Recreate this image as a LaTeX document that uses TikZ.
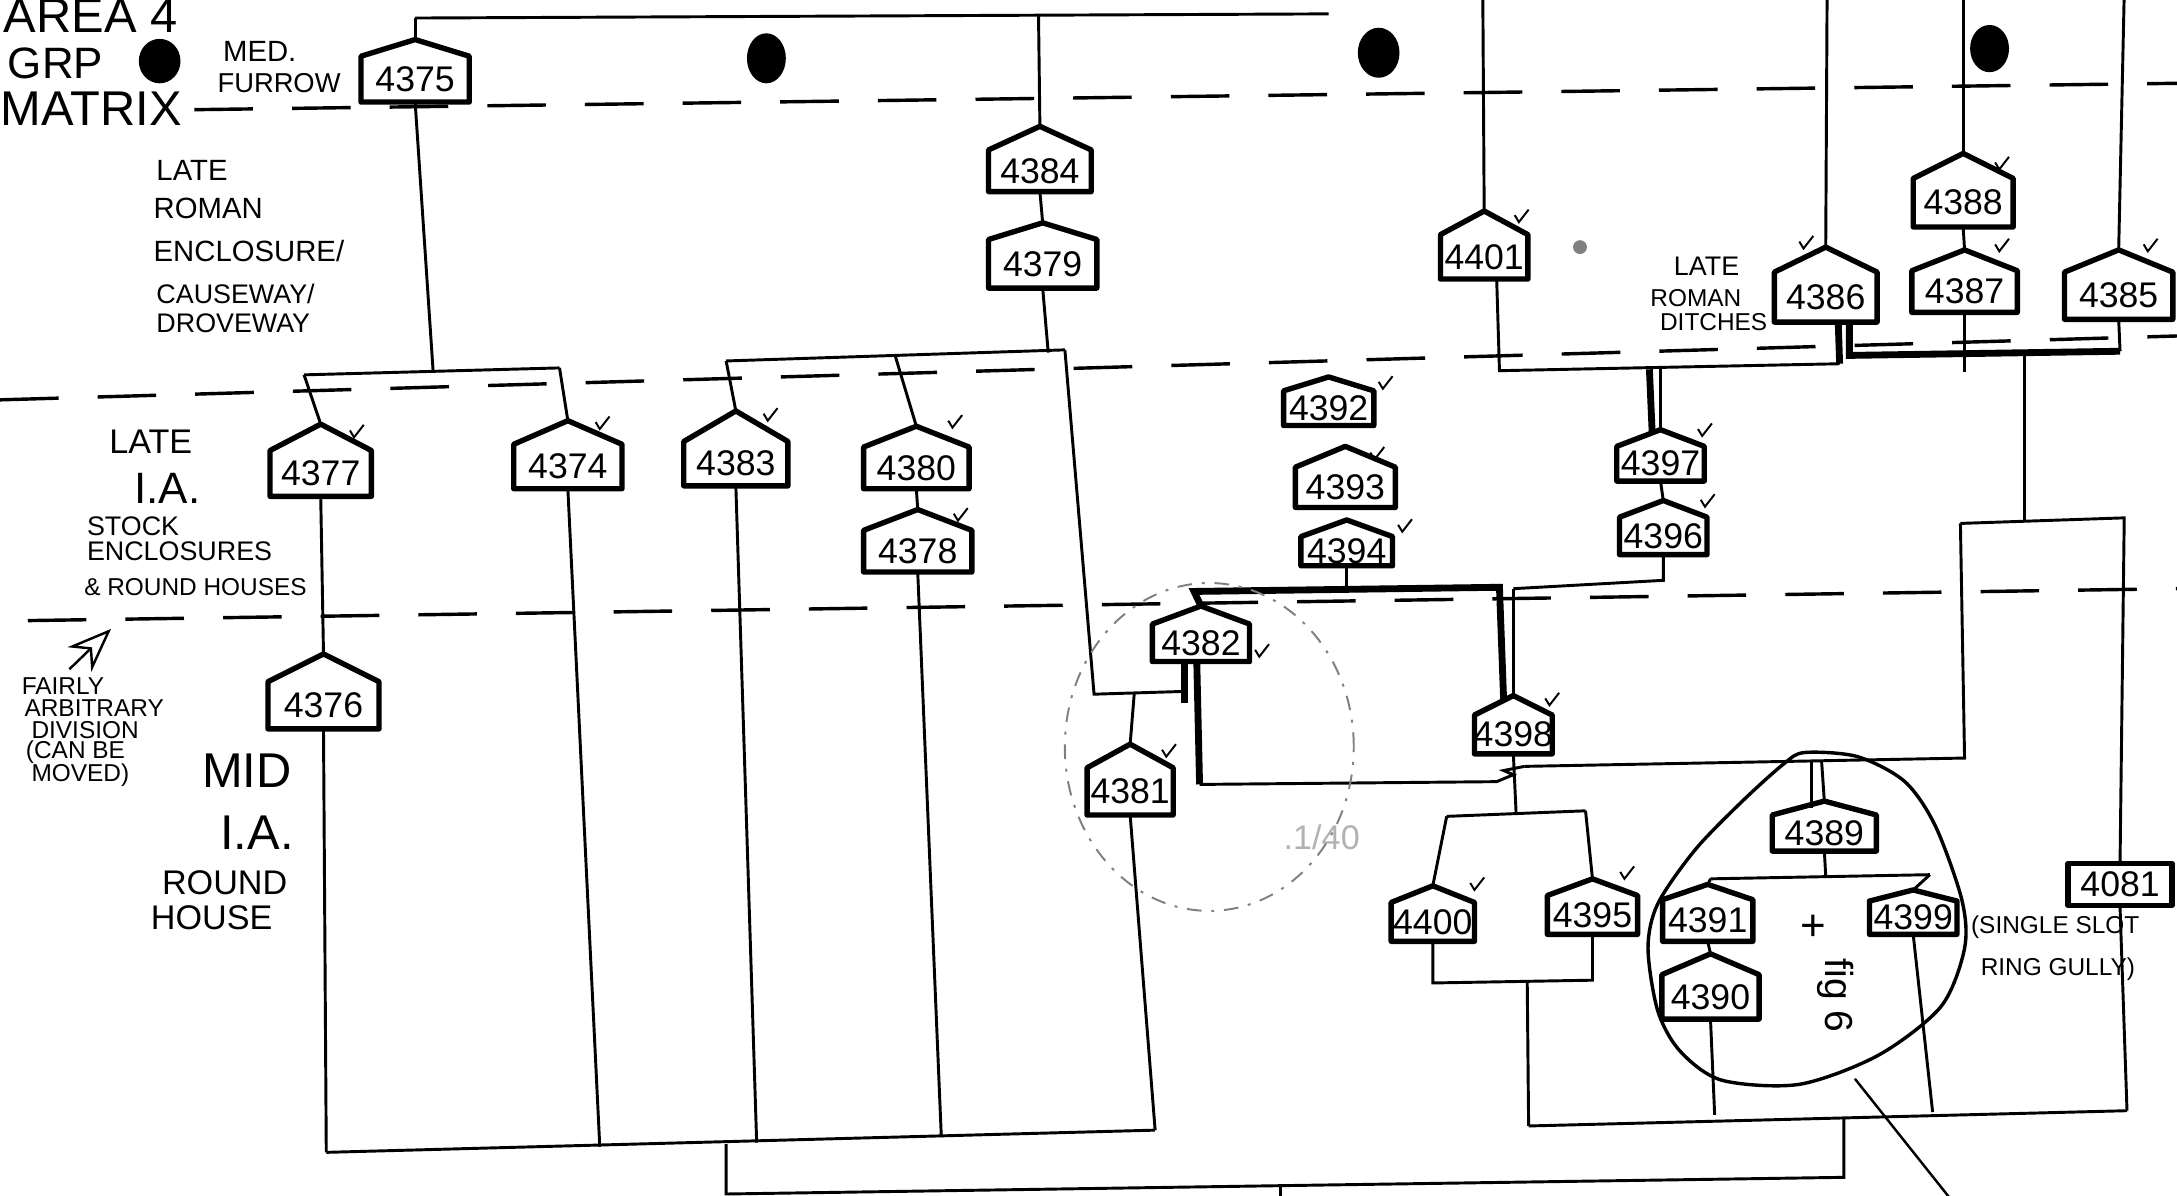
\documentclass[tikz,border=0pt]{standalone}
\usepackage{fontspec}
\setmainfont{Liberation Sans}
\usetikzlibrary{calc,arrows.meta}
\newcommand\hn[7]{% name, x, y, w, h, roof, label
  \node[num] (#1) at (#2,#3) {#7};
  \coordinate (#1-p) at ($(#2,#3)+(0,-#5/2-#6)$);
  \coordinate (#1-b) at ($(#2,#3)+(0,#5/2)$);
  \draw[bx] ($(#2,#3)+(-#4/2,#5/2)$) -- ($(#2,#3)+(#4/2,#5/2)$) -- ($(#2,#3)+(#4/2,-#5/2)$) -- (#1-p) -- ($(#2,#3)+(-#4/2,-#5/2)$) -- cycle;
}
\newcommand\tk[2]{\draw[line width=0.4pt] (#1-3,#2-2) -- (#1,#2+3) -- (#1+7,#2-6);}
\begin{document}
\begin{tikzpicture}[x=0.01cm,y=-0.01cm,
  ln/.style={line width=0.6pt},
  bx/.style={line width=1.1pt,line join=round},
  thk/.style={line width=1.4pt},
  dsh/.style={line width=0.7pt,dash pattern=on 12pt off 8pt},
  num/.style={inner sep=0pt,font=\fontsize{7.3}{8}\selectfont},
  lab/.style={inner sep=0pt,anchor=west,font=\fontsize{6}{7}\selectfont},
  big/.style={inner sep=0pt,anchor=west,font=\fontsize{9}{10}\selectfont},
]
\fill[white] (0,0) rectangle (1568,861);
\useasboundingbox (0,0) rectangle (1568,861);

% dashed period divisions
\draw[dsh] (140,79) -- (1568,60);
\draw[dsh] (0,288) -- (1568,242);
\draw[dsh] (20,447) -- (1568,424);

% title and labels
\node[anchor=west,inner sep=0pt,font=\fontsize{10}{11}\selectfont] (title) at (2,11) {AREA 4};
\node[big] (grp) at (5,46) {GRP};
\node[anchor=west,inner sep=0pt,font=\fontsize{10}{11}\selectfont] (matrix) at (0,78) {MATRIX};
\fill (115,44) ellipse [x radius=0.15cm, y radius=0.16cm];
\fill (552,42) ellipse [x radius=0.14cm, y radius=0.18cm];
\fill (993,38) ellipse [x radius=0.15cm, y radius=0.18cm];
\fill (1433,35) ellipse [x radius=0.14cm, y radius=0.17cm];
\fill[gray] (1138,178) circle [radius=0.05cm];
\node[lab,font=\fontsize{6}{7}\selectfont] (med) at (160,37) {MED.};
\node[lab,font=\fontsize{5.6}{7}\selectfont] (furrow) at (156,60) {FURROW};

\node[lab] (lr1) at (112,123) {LATE};
\node[lab] (lr2) at (110,150) {ROMAN};
\node[lab] (lr3) at (110,181) {ENCLOSURE/};
\node[lab,font=\fontsize{5.5}{6}\selectfont] (lr4) at (112,212) {CAUSEWAY/};
\node[lab,font=\fontsize{5.5}{6}\selectfont] (lr5) at (112,233) {DROVEWAY};

\node[lab,font=\fontsize{7}{8}\selectfont] (li1) at (78,318) {LATE};
\node[big] (li2) at (96,352) {I.A.};
\node[lab,font=\fontsize{5.5}{6}\selectfont] (li3) at (62,379) {STOCK};
\node[lab,font=\fontsize{5.5}{6}\selectfont] (li4) at (62,397) {ENCLOSURES};
\node[lab,font=\fontsize{5}{6}\selectfont] (li5) at (60,423) {\& ROUND HOUSES};

\node[lab,font=\fontsize{5}{6}\selectfont] (fa1) at (15,494) {FAIRLY};
\node[lab,font=\fontsize{5}{6}\selectfont] (fa2) at (17,510) {ARBITRARY};
\node[lab,font=\fontsize{5}{6}\selectfont] (fa3) at (22,526) {DIVISION};
\node[lab,font=\fontsize{5}{6}\selectfont] (fa4) at (18,542) {(CAN BE};
\node[lab,font=\fontsize{5}{6}\selectfont] (fa5) at (22,558) {MOVED)};
\coordinate (arA) at (50,482);
\coordinate (arB) at (80,453);
\draw[line width=0.5pt,-{Stealth[length=9pt,width=7pt,open]}] (arA) -- (arB);

\node[big,font=\fontsize{10}{11}\selectfont] (mid1) at (145,555) {MID};
\node[big,font=\fontsize{10}{11}\selectfont] (mid2) at (158,600) {I.A.};
\node[lab,font=\fontsize{7}{8}\selectfont] (mid3) at (116,636) {ROUND};
\node[lab,font=\fontsize{7}{8}\selectfont] (mid4) at (108,661) {HOUSE};

\node[lab,font=\fontsize{5.5}{6}\selectfont] (lrd1) at (1205,192) {LATE};
\node[lab,font=\fontsize{5}{6}\selectfont] (lrd2) at (1188,215) {ROMAN};
\node[lab,font=\fontsize{5}{6}\selectfont] (lrd3) at (1195,232) {DITCHES};

\node[lab,font=\fontsize{5}{6}\selectfont] (sg1) at (1419,668) {(SINGLE SLOT};
\node[lab,font=\fontsize{5}{6}\selectfont] (sg2) at (1426,698) {RING GULLY)};
\node[inner sep=0pt,font=\fontsize{9}{10}\selectfont] (plus) at (1306,668) {+};
\node[inner sep=0pt,font=\fontsize{8}{9}\selectfont,rotate=-90] (fig) at (1322,717) {fig 6};
\node[inner sep=0pt,font=\fontsize{7}{8}\selectfont,text=gray!60] (faint) at (952,603) {.1/40};

% house nodes
\hn{n4375}{299}{57}{78}{33}{12}{4375}
\hn{n4384}{749}{123}{74}{30}{17}{4384}
\hn{n4379}{751}{190}{78}{35}{12}{4379}
\hn{n4401}{1069}{185}{63}{32}{17}{4401}
\hn{n4386}{1315}{214}{74}{36}{18}{4386}
\hn{n4388}{1414}{146}{72}{35}{18}{4388}
\hn{n4387}{1415}{210}{76}{30}{15}{4387}
\hn{n4385}{1526}{213}{78}{34}{16}{4385}
\hn{n4377}{231}{341}{73}{33}{19}{4377}
\hn{n4374}{409}{336}{78}{32}{17}{4374}
\hn{n4383}{530}{334}{75}{32}{22}{4383}
\hn{n4380}{660}{337}{76}{30}{15}{4380}
\hn{n4378}{661}{397}{78}{30}{15}{4378}
\hn{n4392}{957}{294}{65}{25}{10}{4392}
\hn{n4393}{969}{351}{72}{29}{15}{4393}
\hn{n4394}{970}{397}{66}{21}{12}{4394}
\hn{n4397}{1196}{334}{63}{25}{12}{4397}
\hn{n4396}{1198}{386}{63}{27}{12}{4396}
\hn{n4376}{233}{508}{80}{34}{20}{4376}
\hn{n4382}{865}{463}{70}{27}{13}{4382}
\hn{n4381}{814}{570}{62}{34}{17}{4381}
\hn{n4398}{1090}{529}{56}{28}{14}{4398}
\hn{n4389}{1314}{600}{75}{26}{10}{4389}
\hn{n4400}{1032}{664}{60}{28}{12}{4400}
\hn{n4395}{1147}{659}{65}{28}{12}{4395}
\hn{n4391}{1230}{663}{65}{30}{11}{4391}
\hn{n4390}{1232}{718}{70}{32}{15}{4390}
\hn{n4399}{1378}{661}{63}{24}{8}{4399}
\node[draw,bx,num,minimum width=0.75cm,minimum height=0.3cm] (n4081) at (1527,637) {4081};

% ticks
\tk{255}{312}\tk{432}{306}\tk{553}{300}\tk{686}{305}\tk{690}{372}
\tk{996}{277}\tk{990}{328}\tk{1010}{380}\tk{1226}{311}\tk{1228}{362}
\tk{1094}{157}\tk{1299}{176}\tk{1440}{119}\tk{1440}{178}\tk{1547}{178}
\tk{1116}{505}\tk{840}{542}\tk{1062}{638}\tk{1170}{630}\tk{907}{470}

% top connectors
\coordinate (t1) at (299,13);
\coordinate (t2) at (957,10);
\coordinate (t3) at (748,11);
\draw[ln] (t1) -- (t2);
\draw[ln] (t1) -- (n4375-p);
\draw[ln] (t3) -- (n4384-p);
\draw[ln] (n4384-b) -- (n4379-p);
\coordinate (e1) at (1068,-5);
\coordinate (e2) at (1316,-5);
\coordinate (e3) at (1414,-5);
\coordinate (e4) at (1530,-5);
\draw[ln] (e1) -- (n4401-p);
\draw[ln] (e2) -- (n4386-p);
\draw[ln] (e3) -- (n4388-p);
\draw[ln] (e4) -- (n4385-p);
\draw[ln] (n4388-b) -- (n4387-p);

% left bracket
\coordinate (a1) at (312,268);
\coordinate (aL) at (219,270);
\coordinate (aR) at (403,265);
\draw[ln] (n4375-b) -- (a1);
\draw[ln] (aL) -- (aR);
\draw[ln] (aL) -- (n4377-p);
\draw[ln] (aR) -- (n4374-p);
\draw[ln] (n4377-b) -- (n4376-p);

% middle bracket
\coordinate (b1) at (755,254);
\coordinate (bL) at (523,260);
\coordinate (bM) at (645,257);
\coordinate (bR) at (767,252);
\coordinate (b2) at (788,500);
\coordinate (b3) at (853,498);
\coordinate (b4) at (817,499);
\draw[ln] (n4379-b) -- (b1);
\draw[ln] (bL) -- (bR);
\draw[ln] (bL) -- (n4383-p);
\draw[ln] (bM) -- (n4380-p);
\draw[ln] (n4380-b) -- (n4378-p);
\draw[ln] (bR) -- (b2) -- (b3);
\draw[ln] (b4) -- (n4381-p);

% 4382 legs
\coordinate (c1) at (853,477);
\coordinate (c1b) at (853,506);
\coordinate (c2) at (862,477);
\coordinate (c3) at (864,565);
\coordinate (c4) at (1078,563);
\coordinate (c5) at (1098,552);
\draw[thk] (c1) -- (c1b);
\draw[thk] (c2) -- (c3);
\draw[ln] (c3) -- (c4) -- (1090,558) -- (1083,555) -- (c5);

% 4394 bar
\coordinate (d0) at (970,424);
\coordinate (d1) at (860,426);
\coordinate (d2) at (1080,423);
\coordinate (d3) at (1083,504);
\coordinate (d4) at (1090,424);
\coordinate (d5) at (1198,418);
\draw[ln] (n4394-b) -- (d0);
\draw[thk] (n4382-p) -- (d1) -- (d2) -- (d3);
\draw[ln] (d4) -- (n4398-p);
\draw[ln] (d4) -- (d5) -- (n4396-b);

% 4398 bracket
\coordinate (f1) at (1092,586);
\coordinate (fL) at (1042,588);
\coordinate (fR) at (1142,584);
\draw[ln] (n4398-b) -- (f1);
\draw[ln] (fL) -- (fR);
\draw[ln] (fL) -- (n4400-p);
\draw[ln] (fR) -- (n4395-p);
\coordinate (g1) at (1032,708);
\coordinate (g2) at (1147,706);
\coordinate (g3) at (1100,707);
\coordinate (g4) at (1101,811);
\draw[ln] (n4400-b) -- (g1) -- (g2) -- (n4395-b);
\draw[ln] (g3) -- (g4);

% right top group
\coordinate (h0) at (1078,201);
\coordinate (h1) at (1080,267);
\coordinate (h2) at (1325,262);
\coordinate (h3) at (1324,232);
\coordinate (h4) at (1332,232);
\coordinate (h5) at (1332,256);
\coordinate (h6) at (1527,253);
\coordinate (h7) at (1415,268);
\draw[ln] (h0) -- (h1) -- (h2);
\draw[thk] (h3) -- (h2);
\draw[thk] (h4) -- (h5) -- (h6);
\draw[ln] (h6) -- (n4385-b);
\draw[ln] (n4387-b) -- (h7);
\coordinate (i1) at (1188,266);
\coordinate (i2) at (1190,312);
\coordinate (i3) at (1196,265);
\draw[thk] (i1) -- (i2);
\draw[ln] (i3) -- (n4397-p);
\draw[ln] (n4397-b) -- (n4396-p);

% right frame
\coordinate (j1) at (1458,255);
\coordinate (j2) at (1458,375);
\coordinate (j3) at (1412,377);
\coordinate (j4) at (1530,373);
\coordinate (j5) at (1532,800);
\coordinate (j6) at (1415,546);
\draw[ln] (j1) -- (j2);
\draw[ln] (j3) -- (j4) -- (n4081.north);
\draw[ln] (n4081.south) -- (j5);
\draw[ln] (j3) -- (j6) -- (c5);

% 4389 group
\coordinate (k1) at (1305,548);
\coordinate (k2) at (1305,582);
\coordinate (k3) at (1312,548);
\draw[ln] (k1) -- (k2);
\draw[ln] (k3) -- (n4389-p);
\coordinate (l1) at (1315,631);
\coordinate (lL) at (1232,633);
\coordinate (lR) at (1390,630);
\draw[ln] (n4389-b) -- (l1);
\draw[ln] (lL) -- (lR);
\draw[ln] (lL) -- (n4391-p);
\draw[ln] (lR) -- (n4399-p);
\draw[ln] (n4391-b) -- (n4390-p);
\coordinate (m1) at (1235,803);
\coordinate (m2) at (1392,801);
\draw[ln] (n4390-b) -- (m1);
\draw[ln] (n4399-b) -- (m2);
\draw[ln] (g4) -- (j5);

% bottom left bar
\coordinate (p1) at (235,830);
\coordinate (p2) at (832,814);
\coordinate (q1) at (432,826);
\coordinate (q2) at (545,823);
\coordinate (q3) at (678,819);
\draw[ln] (p1) -- (p2);
\draw[ln] (n4376-b) -- (p1);
\draw[ln] (n4374-b) -- (q1);
\draw[ln] (n4383-b) -- (q2);
\draw[ln] (n4378-b) -- (q3);
\draw[ln] (n4381-b) -- (p2);

% bottom join
\coordinate (r1) at (523,824);
\coordinate (r2) at (523,860);
\coordinate (r3) at (922,854);
\coordinate (r4) at (1328,848);
\coordinate (r5) at (1328,806);
\coordinate (r6) at (922,870);
\draw[ln] (r1) -- (r2) -- (r3) -- (r4) -- (r5);
\draw[ln] (r3) -- (r6);

% circles
\draw[line width=0.4pt,gray,dash pattern=on 3pt off 2pt on 0.6pt off 2pt] (871,538) ellipse [x radius=1.04cm, y radius=1.18cm];
\draw[line width=0.7pt] plot[smooth cycle] coordinates {(1300,542) (1338,545) (1372,563) (1394,595) (1413,648) (1415,683) (1398,725) (1353,760) (1296,781) (1240,778) (1210,757) (1194,728) (1187,683) (1194,651) (1221,612) (1255,577) (1285,550)};
\coordinate (s1) at (1336,777);
\coordinate (s2) at (1410,870);
\draw[line width=0.5pt] (s1) -- (s2);
\end{tikzpicture}
\end{document}
